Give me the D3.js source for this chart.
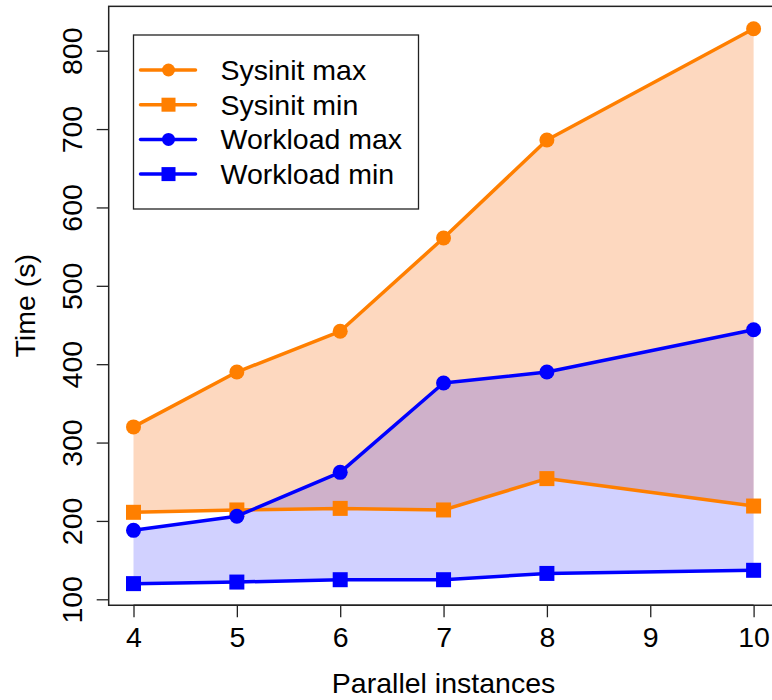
<!DOCTYPE html>
<html>
<head>
<meta charset="utf-8">
<script src="https://cdn.jsdelivr.net/npm/d3@7"></script>
<style>
  body { margin: 0; background: #fff; }
  svg text { font-family: "Liberation Sans", Arial, sans-serif; fill: #000; }
</style>
</head>
<body>
<div id="chart"></div>
<script>
// data
const instances = [4, 5, 6, 7, 8, 10];
const sysinitMax = [320, 390, 442, 561, 686, 828];
const sysinitMin = [211, 214, 216, 214, 254, 219];
const workloadMax = [188, 206, 262, 376, 390, 444];
const workloadMin = [120, 122, 125, 125, 133, 137];
const xTicks = [4, 5, 6, 7, 8, 9, 10];
const yTicks = [100, 200, 300, 400, 500, 600, 700, 800];

const seriesNames = ["Sysinit max", "Sysinit min", "Workload max", "Workload min"];

const width = 772, height = 700;
const fontSize = 28.5;

const svg = d3.select("#chart")
    .append("svg")
    .attr("width", width)
    .attr("height", height);

// scales (box drawn 4% past data range like R does)
const x = d3.scaleLinear().domain([4, 10]).range([133.5, 753.6]);
const y = d3.scaleLinear().domain([100, 800]).range([599.3, 50.7]);
const boxX0 = x(3.76), boxX1 = x(10.24);
const boxY0 = y(856.6), boxY1 = y(92.4);

const orange = "#ff7f00", blue = "#0000ff";

const series = [
    {name: seriesNames[0], values: sysinitMax, color: orange, shape: "circle"},
    {name: seriesNames[1], values: sysinitMin, color: orange, shape: "square"},
    {name: seriesNames[2], values: workloadMax, color: blue, shape: "circle"},
    {name: seriesNames[3], values: workloadMin, color: blue, shape: "square"}
];

// shaded bands between max and min
const band = d3.area()
    .x(function (d) { return x(d.x); })
    .y0(function (d) { return y(d.lo); })
    .y1(function (d) { return y(d.hi); });

function bandData(hi, lo) {
    return instances.map(function (v, i) { return {x: v, hi: hi[i], lo: lo[i]}; });
}

svg.append("path")
    .datum(bandData(sysinitMax, sysinitMin))
    .attr("d", band)
    .attr("fill", "#fdd8bf");

svg.append("path")
    .datum(bandData(workloadMax, workloadMin))
    .attr("d", band)
    .attr("fill", blue)
    .attr("fill-opacity", 0.18);

// lines + markers
const line = d3.line()
    .x(function (d, i) { return x(instances[i]); })
    .y(function (d) { return y(d); });

series.forEach(function (s) {
    svg.append("path")
        .datum(s.values)
        .attr("d", line)
        .attr("fill", "none")
        .attr("stroke", s.color)
        .attr("stroke-width", 3.5)
        .attr("stroke-linejoin", "round");

    if (s.shape === "circle") {
        svg.selectAll(null)
            .data(s.values)
            .enter()
            .append("circle")
            .attr("cx", function (d, i) { return x(instances[i]); })
            .attr("cy", function (d) { return y(d); })
            .attr("r", 7.5)
            .attr("fill", s.color);
    } else {
        svg.selectAll(null)
            .data(s.values)
            .enter()
            .append("rect")
            .attr("x", function (d, i) { return x(instances[i]) - 7.5; })
            .attr("y", function (d) { return y(d) - 7.5; })
            .attr("width", 15)
            .attr("height", 15)
            .attr("fill", s.color);
    }
});

// plot box
svg.append("rect")
    .attr("x", boxX0)
    .attr("y", boxY0)
    .attr("width", boxX1 - boxX0)
    .attr("height", boxY1 - boxY0)
    .attr("fill", "none")
    .attr("stroke", "#222")
    .attr("stroke-width", 1.5);

// x axis
const xAxis = svg.append("g")
    .attr("transform", `translate(0, ${boxY1})`)
    .call(d3.axisBottom(x).tickValues(xTicks).tickSize(12).tickFormat(d3.format("d")));
xAxis.select(".domain").remove();
xAxis.selectAll("line").attr("stroke", "#222").attr("stroke-width", 1.3);
xAxis.selectAll("text")
    .attr("font-size", fontSize)
    .attr("font-family", "Liberation Sans, Arial, sans-serif")
    .attr("fill", "#000")
    .attr("dy", null)
    .attr("y", 42);
svg.append("line")
    .attr("x1", x(4)).attr("x2", x(10))
    .attr("y1", boxY1).attr("y2", boxY1)
    .attr("stroke", "#222").attr("stroke-width", 1.5);

// y axis, labels rotated like R's default
const yAxis = svg.append("g")
    .attr("transform", `translate(${boxX0}, 0)`)
    .call(d3.axisLeft(y).tickValues(yTicks).tickSize(12).tickFormat(d3.format("d")));
yAxis.select(".domain").remove();
yAxis.selectAll("line").attr("stroke", "#222").attr("stroke-width", 1.3);
yAxis.selectAll("text")
    .attr("font-size", fontSize)
    .attr("font-family", "Liberation Sans, Arial, sans-serif")
    .attr("fill", "#000")
    .attr("text-anchor", "middle")
    .attr("x", null)
    .attr("dy", null)
    .attr("transform", "translate(-27, 0) rotate(-90)");

// axis titles
svg.append("text")
    .attr("x", (boxX0 + boxX1) / 2)
    .attr("y", 693)
    .attr("text-anchor", "middle")
    .attr("font-size", fontSize)
    .text("Parallel instances");

svg.append("text")
    .attr("transform", `translate(35, ${(boxY0 + boxY1) / 2}) rotate(-90)`)
    .attr("text-anchor", "middle")
    .attr("font-size", fontSize)
    .text("Time (s)");

// legend
const legend = svg.append("g").attr("transform", "translate(133.5, 35)");
legend.append("rect")
    .attr("width", 285)
    .attr("height", 174)
    .attr("fill", "#fff")
    .attr("stroke", "#222")
    .attr("stroke-width", 1.3);

const rows = legend.selectAll("g.row")
    .data(series)
    .enter()
    .append("g")
    .attr("class", "row")
    .attr("transform", function (d, i) { return `translate(0, ${35 + i * 34.7})`; });

rows.append("line")
    .attr("x1", 7).attr("x2", 62)
    .attr("stroke", function (d) { return d.color; })
    .attr("stroke-width", 3.5)
    .attr("stroke-linecap", "round");

rows.filter(function (d) { return d.shape === "circle"; })
    .append("circle")
    .attr("cx", 35)
    .attr("r", 6.5)
    .attr("fill", function (d) { return d.color; });

rows.filter(function (d) { return d.shape === "square"; })
    .append("rect")
    .attr("x", 28).attr("y", -7)
    .attr("width", 14).attr("height", 14)
    .attr("fill", function (d) { return d.color; });

rows.append("text")
    .attr("x", 87)
    .attr("y", 10)
    .attr("font-size", fontSize)
    .text(function (d) { return d.name; });
</script>
</body>
</html>
